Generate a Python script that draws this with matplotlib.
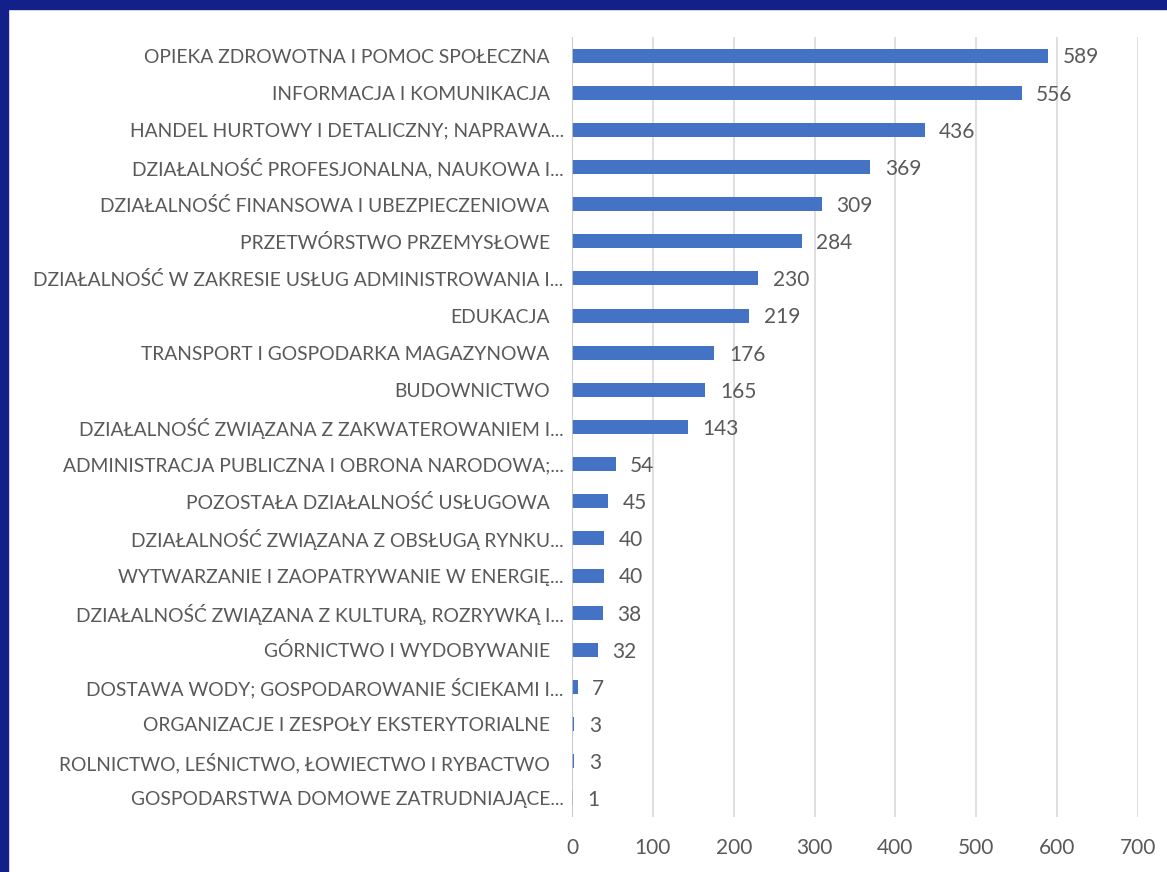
import matplotlib.pyplot as plt
from matplotlib.patches import Rectangle
from matplotlib.transforms import ScaledTranslation

categories = [
    "OPIEKA ZDROWOTNA I POMOC SPOŁECZNA",
    "INFORMACJA I KOMUNIKACJA",
    "HANDEL HURTOWY I DETALICZNY; NAPRAWA...",
    "DZIAŁALNOŚĆ PROFESJONALNA, NAUKOWA I...",
    "DZIAŁALNOŚĆ FINANSOWA I UBEZPIECZENIOWA",
    "PRZETWÓRSTWO PRZEMYSŁOWE",
    "DZIAŁALNOŚĆ W ZAKRESIE USŁUG ADMINISTROWANIA I...",
    "EDUKACJA",
    "TRANSPORT I GOSPODARKA MAGAZYNOWA",
    "BUDOWNICTWO",
    "DZIAŁALNOŚĆ ZWIĄZANA Z ZAKWATEROWANIEM I...",
    "ADMINISTRACJA PUBLICZNA I OBRONA NARODOWA;...",
    "POZOSTAŁA DZIAŁALNOŚĆ USŁUGOWA",
    "DZIAŁALNOŚĆ ZWIĄZANA Z OBSŁUGĄ RYNKU...",
    "WYTWARZANIE I ZAOPATRYWANIE W ENERGIĘ...",
    "DZIAŁALNOŚĆ ZWIĄZANA Z KULTURĄ, ROZRYWKĄ I...",
    "GÓRNICTWO I WYDOBYWANIE",
    "DOSTAWA WODY; GOSPODAROWANIE ŚCIEKAMI I...",
    "ORGANIZACJE I ZESPOŁY EKSTERYTORIALNE",
    "ROLNICTWO, LEŚNICTWO, ŁOWIECTWO I RYBACTWO",
    "GOSPODARSTWA DOMOWE ZATRUDNIAJĄCE...",
]
values = [589, 556, 436, 369, 309, 284, 230, 219, 176, 165, 143,
          54, 45, 40, 40, 38, 32, 7, 3, 3, 1]
x_ticks = [0, 100, 200, 300, 400, 500, 600, 700]

plt.rcParams['font.family'] = ['Lato', 'DejaVu Sans']
gray = '#595959'

fig = plt.figure(figsize=(11.67, 8.72), dpi=100)
fig.patch.set_facecolor('white')
# dark blue frame at top and left
fig.patches.append(Rectangle((0, 1 - 9 / 872), 1, 9 / 872, transform=fig.transFigure,
                             color='#14208a', zorder=0))
fig.patches.append(Rectangle((0, 0), 8 / 1167, 1, transform=fig.transFigure,
                             color='#14208a', zorder=0))

ax = fig.add_axes([572 / 1167, 1 - 817 / 872, (1138 - 572) / 1167, (817 - 37) / 872])
y = list(range(len(categories)))
ax.barh(y, values, height=0.38, color='#4472C4', zorder=3)
ax.set_ylim(len(categories) - 0.5, -0.5)
ax.set_xlim(0, 700)
ax.set_xticks(x_ticks)
ax.set_yticks(y)
ax.set_yticklabels(categories, fontsize=13.9, color=gray)
ax.tick_params(axis='x', length=0, pad=15, labelsize=15, labelcolor=gray)
ax.tick_params(axis='y', length=0, pad=6)
# full (non-truncated) labels sit a bit further from the axis
shift = ScaledTranslation(-14 / 100, 0, fig.dpi_scale_trans)
for lbl in ax.get_yticklabels():
    if not lbl.get_text().endswith('...'):
        lbl.set_transform(lbl.get_transform() + shift)
ax.grid(axis='x', color='#d9d9d9', linewidth=1.2, zorder=0)
for s in ax.spines.values():
    s.set_visible(False)
ax.axvline(0, color='#c8c8c8', linewidth=1.2, zorder=4)

for yi, v in zip(y, values):
    ax.text(v + 18, yi + 0.05, str(v), va='center', ha='left', fontsize=15, color=gray)

fig.savefig('out.png', dpi=100)
